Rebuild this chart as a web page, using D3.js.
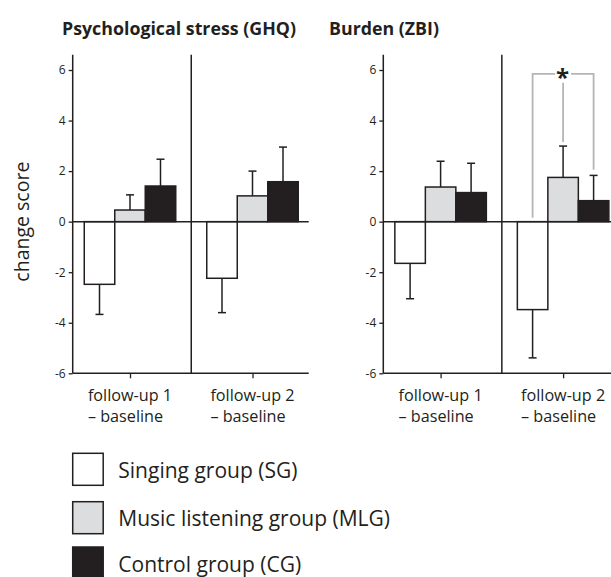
<!DOCTYPE html>
<html>
<head>
<meta charset="utf-8">
<script src="https://cdn.jsdelivr.net/npm/d3@7"></script>
<style>
  body { margin: 0; background: #fff; }
  svg { display: block; font-family: 'Open Sans', sans-serif; }
</style>
</head>
<body>
<svg id="chart" width="611" height="577"></svg>
<script>
const groupLabels = ['follow-up 1', 'follow-up 2'];
const seriesKeys = ['SG', 'MLG', 'CG'];
const seriesLabels = ['Singing group (SG)', 'Music listening group (MLG)', 'Control group (CG)'];
const yTicks = [-6, -4, -2, 0, 2, 4, 6];

// rows = follow-up, cols = SG, MLG, CG
const ghqMeans = [[-2.48, 0.46, 1.41], [-2.24, 1.02, 1.58]];
const ghqErrors = [[1.19, 0.60, 1.06], [1.36, 0.98, 1.37]];
const zbiMeans = [[-1.65, 1.37, 1.15], [-3.48, 1.75, 0.83]];
const zbiErrors = [[1.40, 1.02, 1.16], [1.91, 1.24, 1.00]];

// significance bracket (ZBI, follow-up 2): top and leg ends in score units
const bracketTop = 5.85;
const bracketLegEnds = [0.15, 3.15, 2.05];

const ink = '#231f20';
const fills = ['#ffffff', '#dcdddf', '#231f20'];

const svg = d3.select('#chart');

const y = d3.scaleLinear().domain([-6, 6]).range([373.3, 70]);
const yTop = 6.6;
const panelW = 236;

const xGroup = d3.scalePoint().domain(groupLabels).range([57.3, 179.8]);
const xSeries = d3.scaleBand().domain(seriesKeys).range([-45.75, 45.75]);

const color = d3.scaleOrdinal().domain(seriesKeys).range(fills);

const drawPanel = (left, title, titleX, means, errors) => {
  const g = svg.append('g').attr('transform', `translate(${left},0)`);

  svg.append('text')
    .attr('x', titleX)
    .attr('y', 35)
    .attr('font-size', 17.8)
    .attr('font-weight', 700)
    .attr('fill', ink)
    .text(title);

  // y axis
  const yAxis = d3.axisLeft(y).tickValues(yTicks).tickSize(4).tickPadding(3)
    .tickFormat((d) => d);
  const ya = g.append('g').call(yAxis);
  ya.select('.domain').remove();
  ya.selectAll('line').attr('stroke', ink).attr('stroke-width', 1.3);
  ya.selectAll('text').attr('font-size', 12).attr('fill', ink)
    .attr('font-family', "'Open Sans', sans-serif");

  g.append('line')
    .attr('x1', 0).attr('x2', 0)
    .attr('y1', y(yTop)).attr('y2', y(-6))
    .attr('stroke', ink).attr('stroke-width', 1.5);

  // divider between follow-ups
  const mid = (xGroup(groupLabels[0]) + xGroup(groupLabels[1])) / 2;
  g.append('line')
    .attr('x1', mid).attr('x2', mid)
    .attr('y1', y(yTop)).attr('y2', y(-6))
    .attr('stroke', ink).attr('stroke-width', 1.5);

  // x axis
  const xAxis = d3.axisBottom(xGroup).tickSize(5).tickFormat('');
  const xa = g.append('g').attr('transform', `translate(0,${y(-6)})`).call(xAxis);
  xa.select('.domain').remove();
  xa.selectAll('line').attr('stroke', ink).attr('stroke-width', 1.3);

  g.append('line')
    .attr('x1', 0).attr('x2', panelW)
    .attr('y1', y(-6)).attr('y2', y(-6))
    .attr('stroke', ink).attr('stroke-width', 1.5);

  groupLabels.forEach((lab) => {
    const t = g.append('text')
      .attr('y', 400.7)
      .attr('font-size', 16.2)
      .attr('fill', ink);
    const first = t.append('tspan').text(lab);
    const w = first.node().getComputedTextLength();
    const x0 = xGroup(lab) - w / 2;
    first.attr('x', x0);
    t.append('tspan').attr('x', x0).attr('dy', 21).text('\u2013 baseline');
  });

  // bars
  const bars = [];
  means.forEach((row, gi) => {
    row.forEach((v, si) => {
      bars.push({ group: groupLabels[gi], key: seriesKeys[si], value: v, err: errors[gi][si] });
    });
  });

  const cx = (d) => xGroup(d.group) + xSeries(d.key) + xSeries.bandwidth() / 2;
  const errEnd = (d) => d.value + Math.sign(d.value) * d.err;

  g.selectAll('line.err')
    .data(bars)
    .enter()
    .append('line')
    .attr('class', 'err')
    .attr('x1', cx).attr('x2', cx)
    .attr('y1', (d) => y(d.value))
    .attr('y2', (d) => y(errEnd(d)))
    .attr('stroke', ink).attr('stroke-width', 1.5);

  g.selectAll('line.cap')
    .data(bars)
    .enter()
    .append('line')
    .attr('class', 'cap')
    .attr('x1', (d) => cx(d) - 4).attr('x2', (d) => cx(d) + 4)
    .attr('y1', (d) => y(errEnd(d)))
    .attr('y2', (d) => y(errEnd(d)))
    .attr('stroke', ink).attr('stroke-width', 1.5);

  g.selectAll('rect.bar')
    .data(bars)
    .enter()
    .append('rect')
    .attr('class', 'bar')
    .attr('x', (d) => xGroup(d.group) + xSeries(d.key))
    .attr('width', xSeries.bandwidth())
    .attr('y', (d) => y(Math.max(0, d.value)))
    .attr('height', (d) => Math.abs(y(d.value) - y(0)))
    .attr('fill', (d) => color(d.key))
    .attr('stroke', ink)
    .attr('stroke-width', 1.5);

  // zero line
  g.append('line')
    .attr('x1', 0).attr('x2', panelW)
    .attr('y1', y(0)).attr('y2', y(0))
    .attr('stroke', ink).attr('stroke-width', 1.5);

  return g;
};

drawPanel(72.7, 'Psychological stress (GHQ)', 62, ghqMeans, ghqErrors);
const zbi = drawPanel(383.3, 'Burden (ZBI)', 329, zbiMeans, zbiErrors);

// significance bracket on ZBI follow-up 2
const legX = seriesKeys.map((k) => xGroup(groupLabels[1]) + xSeries(k) + xSeries.bandwidth() / 2);
const grey = '#b5b5b5';
const starX = legX[1];
const gap = 8;

zbi.append('path')
  .attr('d', `M${legX[0]},${y(bracketLegEnds[0])}V${y(bracketTop)}H${starX - gap}`)
  .attr('fill', 'none').attr('stroke', grey).attr('stroke-width', 1.8);
zbi.append('path')
  .attr('d', `M${starX + gap},${y(bracketTop)}H${legX[2]}V${y(bracketLegEnds[2])}`)
  .attr('fill', 'none').attr('stroke', grey).attr('stroke-width', 1.8);
zbi.append('line')
  .attr('x1', starX).attr('x2', starX)
  .attr('y1', y(bracketTop) + 9).attr('y2', y(bracketLegEnds[1]))
  .attr('stroke', grey).attr('stroke-width', 1.8);
zbi.append('text')
  .attr('x', starX - 0.5)
  .attr('y', y(bracketTop) + 12.5)
  .attr('text-anchor', 'middle')
  .attr('font-size', 24)
  .attr('font-weight', 700)
  .attr('fill', ink)
  .text('*');

// y axis label
svg.append('text')
  .attr('transform', `translate(29,${y(0)}) rotate(-90)`)
  .attr('text-anchor', 'middle')
  .attr('font-size', 19.5)
  .attr('fill', ink)
  .text('change score');

// legend
const legendTops = [453.3, 501.7, 547];
const legend = svg.selectAll('g.legend')
  .data(seriesKeys)
  .enter()
  .append('g')
  .attr('class', 'legend')
  .attr('transform', (d, i) => `translate(72.7,${legendTops[i]})`);

legend.append('rect')
  .attr('width', 30.5)
  .attr('height', 32)
  .attr('fill', (d) => color(d))
  .attr('stroke', ink)
  .attr('stroke-width', 1.5);

legend.append('text')
  .attr('x', 45.6)
  .attr('y', 24.5)
  .attr('font-size', 21)
  .attr('fill', ink)
  .text((d, i) => seriesLabels[i]);
</script>
</body>
</html>
